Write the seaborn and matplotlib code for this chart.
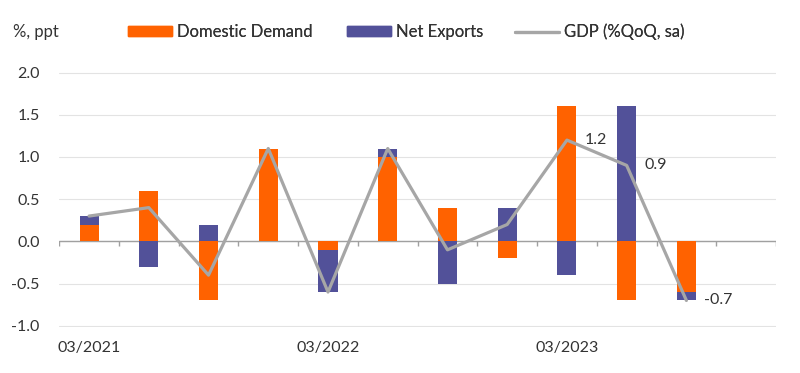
import numpy as np
import pandas as pd
import seaborn as sns
import matplotlib.pyplot as plt
from matplotlib.patches import Patch
from matplotlib.lines import Line2D

quarters = ['03/2021', '06/2021', '09/2021', '12/2021',
            '03/2022', '06/2022', '09/2022', '12/2022',
            '03/2023', '06/2023', '09/2023', '12/2023']
domestic = [0.2, 0.6, -0.7, 1.1, -0.1, 1.0, 0.4, -0.2, 1.6, -0.7, -0.6, np.nan]
net_exports = [0.1, -0.3, 0.2, 0.0, -0.5, 0.1, -0.5, 0.4, -0.4, 1.6, -0.1, np.nan]
gdp = [0.3, 0.4, -0.4, 1.1, -0.6, 1.1, -0.1, 0.2, 1.2, 0.9, -0.7, np.nan]
shown_labels = ['03/2021', '03/2022', '03/2023']
annotated = {8: '1.2', 9: '0.9', 10: '-0.7'}
legend_labels = ['Domestic Demand', 'Net Exports', 'GDP (%QoQ, sa)']

ORANGE = '#FF6200'
PURPLE = '#525199'
GREY = '#A6A6A6'
TEXT = '#333333'

sns.set_style('white')
plt.rcParams['font.family'] = ['Lato', 'DejaVu Sans']

df = pd.DataFrame({'quarter': quarters, 'dd': domestic, 'nx': net_exports, 'gdp': gdp})
df['pos'] = np.arange(len(df))
# net exports stack on domestic demand when both have the same sign
same = np.sign(df['dd']) == np.sign(df['nx'])
df['nx_reach'] = np.where(same, df['dd'] + df['nx'], df['nx'])

fig = plt.figure(figsize=(8, 3.73), dpi=100)
ax = fig.add_axes([0.074, 0.122, 0.896, 0.688])

sns.barplot(data=df, x='quarter', y='nx_reach', order=quarters, color=PURPLE,
            width=0.32, saturation=1, linewidth=0, ax=ax, zorder=2)
sns.barplot(data=df, x='quarter', y='dd', order=quarters, color=ORANGE,
            width=0.32, saturation=1, linewidth=0, ax=ax, zorder=3)
sns.lineplot(data=df, x='pos', y='gdp', color=GREY, linewidth=2.3, ax=ax, zorder=4)

for i, txt in annotated.items():
    ax.text(i + 0.3, gdp[i], txt, ha='left', va='center', fontsize=11.5, color=TEXT)

ax.set_xlim(-0.5, len(quarters) - 0.5)
ax.set_ylim(-1.02, 2.02)
ax.set_yticks(np.arange(-1.0, 2.01, 0.5))
ax.set_yticklabels([f'{v:.1f}' for v in np.arange(-1.0, 2.01, 0.5)])
ax.yaxis.grid(True, color='#E3E3E3', linewidth=0.8)
ax.set_axisbelow(True)
ax.set_xticks(df['pos'])
ax.set_xticklabels([q if q in shown_labels else '' for q in quarters])
ax.tick_params(axis='both', length=0, labelsize=11.5, colors=TEXT)
ax.tick_params(axis='x', pad=10)
ax.tick_params(axis='y', pad=14)
ax.set_xlabel('')
ax.set_ylabel('')
for s in ax.spines.values():
    s.set_visible(False)

# zero line with category separators
ax.axhline(0, color='#A0A0A0', linewidth=1, zorder=1)
ax.vlines(np.arange(len(quarters) + 1) - 0.5, -0.06, 0, color='#A0A0A0', linewidth=1, zorder=1)

handles = [Patch(color=ORANGE), Patch(color=PURPLE), Line2D([], [], color=GREY, linewidth=2.3)]
legend_x = [0.16, 0.434, 0.644]
for h, lab, lx in zip(handles, legend_labels, legend_x):
    leg = fig.legend([h], [lab], loc='center left', bbox_to_anchor=(lx, 0.914),
                     frameon=False, fontsize=12, handlelength=2.65, handleheight=0.55,
                     handletextpad=0.3, borderpad=0, borderaxespad=0, labelcolor=TEXT)
    fig.add_artist(leg)
fig.text(0.016, 0.914, '%, ppt', ha='left', va='center', fontsize=12, color=TEXT)

fig.savefig('out.png', dpi=100)
